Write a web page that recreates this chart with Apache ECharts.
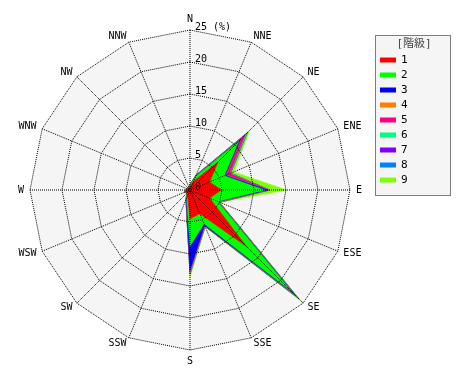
<!DOCTYPE html>
<html><head><meta charset="utf-8">
<script src="https://cdn.jsdelivr.net/npm/echarts@6/dist/echarts.min.js"></script>
<style>html,body{margin:0;padding:0;background:#fff}#c{width:470px;height:380px}</style>
</head><body><div id="c"></div>
<script>
// Directions, clockwise from North
var directions = ['N','NNE','NE','ENE','E','ESE','SE','SSE','S','SSW','SW','WSW','W','WNW','NW','NNW'];
var classNames = ['1','2','3','4','5','6','7','8','9'];
var classColors = ['#ff0000','#00ff00','#0000ff','#ff8000','#ff0080','#00ff80','#8000ff','#0080ff','#80ff00'];
// frequency (%) per class, per direction (clockwise from N)
var c1 = [0.6, 1.5, 6.2, 3.3, 4.9, 3.3, 12.5, 4.0, 4.5, 1.0, 0.6, 0.8, 0.6, 0.4, 0.3, 0.4];
var c2 = [0.2, 0.8, 4.6, 2.5, 6.8, 1.4, 10.0, 1.7, 4.3, 0.4, 0.1, 0.1, 0.1, 0.1, 0.1, 0.1];
var c3 = [0.05, 0.1, 0.4, 0.2, 0.5, 0.1, 0.6, 0.3, 3.8, 0.2, 0, 0, 0, 0, 0, 0];
var c4 = [0, 0.05, 0.1, 0.1, 0.1, 0.15, 0.3, 0.1, 0.3, 0.05, 0, 0, 0, 0, 0, 0];
var c5 = [0, 0.05, 0.9, 0.6, 0.1, 0.02, 0.1, 0.02, 0.05, 0, 0, 0, 0, 0, 0, 0];
var c6 = [0, 0.05, 0.3, 0.1, 0.05, 0.02, 0.5, 0.05, 0.1, 0, 0, 0, 0, 0, 0, 0];
var c7 = [0, 0, 0.1, 0.05, 0.02, 0, 0.05, 0, 0.05, 0, 0, 0, 0, 0, 0, 0];
var c8 = [0, 0, 0.1, 0.05, 0.03, 0, 0.05, 0, 0.05, 0, 0, 0, 0, 0, 0, 0];
var c9 = [0, 0.05, 0.5, 0.5, 2.6, 0.05, 0.5, 0.1, 0.5, 0.05, 0, 0, 0, 0, 0, 0];
var radiusTicks = [0, 5, 10, 15, 20, 25];
var maxValue = 25;

var classes = [c1, c2, c3, c4, c5, c6, c7, c8, c9];
// ECharts radar runs counter-clockwise: reorder so directions appear clockwise
var order = [0];
for (var i = directions.length - 1; i >= 1; i--) order.push(i);
var cum = [];
var run = directions.map(function(){ return 0; });
classes.forEach(function(arr){
  run = run.map(function(v, j){ return v + arr[j]; });
  cum.push(run.slice());
});
var items = [];
for (var k = classes.length - 1; k >= 0; k--) {
  items.push({
    name: classNames[k],
    value: order.map(function(j){ return cum[k][j]; }),
    itemStyle: {color: classColors[k]},
    lineStyle: {color: classColors[k], width: 0.5},
    areaStyle: {color: classColors[k], opacity: 1}
  });
}
var font = 'DejaVu Sans Mono';
var indicators = order.map(function(j){ return {name: directions[j], min: 0, max: maxValue}; });
var chart = echarts.init(document.getElementById('c'));
chart.setOption({
  animation: false,
  backgroundColor: '#fff',
  graphic: [
    {type: 'rect', shape: {x: 375.5, y: 35.5, width: 75, height: 160},
     style: {fill: '#f5f5f5', stroke: '#000', lineWidth: 1, lineDash: [1, 1]}, z: 0},
    {type: 'text', x: 414, y: 44, z: 1,
     style: {text: '[階級]', fill: '#444', font: '11px "DejaVu Sans Mono", "Noto Sans CJK JP"', textAlign: 'center', textVerticalAlign: 'middle'}}
  ],
  legend: {
    data: classNames,
    orient: 'vertical', left: 380, top: 54, padding: 0,
    itemWidth: 16, itemHeight: 5, itemGap: 3, icon: 'rect',
    textStyle: {fontFamily: font, fontSize: 11, color: '#000', lineHeight: 12},
    z: 5
  },
  radar: [{
    // background (below data)
    center: [190, 190], radius: 160, startAngle: 90,
    shape: 'polygon', splitNumber: 5,
    indicator: indicators,
    axisName: {color: '#000', fontFamily: font, fontSize: 10},
    nameGap: 6,
    axisLine: {show: false},
    splitLine: {show: false},
    splitArea: {show: true, areaStyle: {color: ['#f5f5f5']}},
    z: 0
  }, {
    // dotted grid (above data)
    center: [190, 190], radius: 160, startAngle: 90,
    shape: 'polygon', splitNumber: 5,
    indicator: indicators,
    axisName: {show: false},
    axisLine: {show: false},
    splitLine: {show: true, lineStyle: {color: '#000', type: 'dotted', width: 1}},
    splitArea: {show: false},
    z: 5
  }],
  polar: {center: [190, 190], radius: 160},
  angleAxis: {
    type: 'value', startAngle: 90, min: 0, max: 360, interval: 22.5,
    axisLine: {show: false}, axisTick: {show: false}, axisLabel: {show: false},
    splitLine: {show: true, lineStyle: {color: '#000', type: 'dotted', width: 1}},
    z: 6
  },
  radiusAxis: {
    min: radiusTicks[0], max: maxValue, interval: 5,
    axisLine: {show: false}, axisTick: {show: false}, splitLine: {show: false},
    axisLabel: {margin: -5, align: 'left', verticalAlign: 'bottom', lineHeight: 6, fontFamily: font, fontSize: 10, color: '#000',
      formatter: function(v){ return v === maxValue ? v + ' (%)' : String(v); }},
    z: 10
  },
  series: [{type: 'radar', radarIndex: 0, symbol: 'none', silent: true, data: items, z: 2}]
});
</script></body></html>
